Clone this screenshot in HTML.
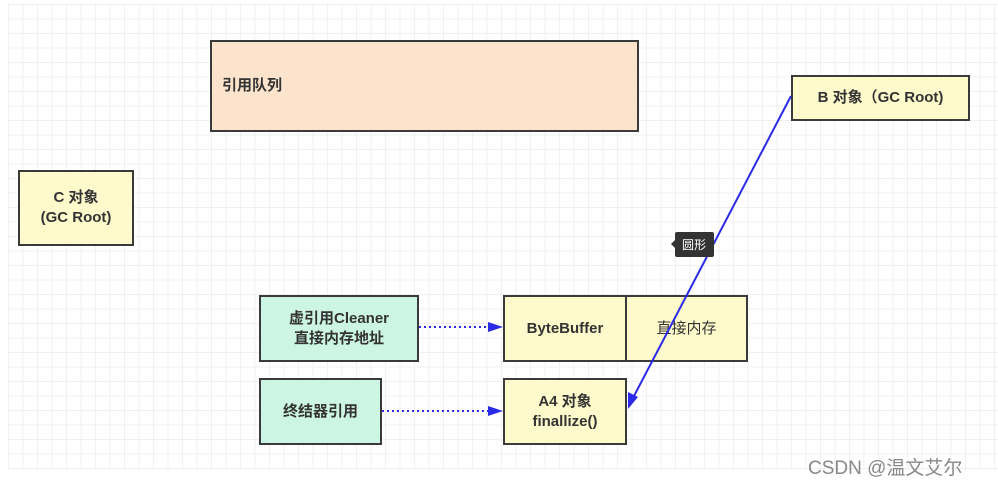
<!DOCTYPE html>
<html><head><meta charset="utf-8"><style>
body{margin:0;width:998px;height:484px;background:#fff;overflow:hidden;position:relative;font-family:"Liberation Sans","Noto Sans CJK SC",sans-serif;}
.grid{position:absolute;left:8px;top:4px;width:990px;height:466px;
background-image:linear-gradient(#f0f0f0 1px,transparent 1px),linear-gradient(90deg,#f0f0f0 1px,transparent 1px);
background-size:14.5px 14.5px;}
.b{position:absolute;box-sizing:border-box;border:2px solid #3a3a3a;display:flex;align-items:center;justify-content:center;text-align:center;font-weight:bold;font-size:15px;color:#333;line-height:20px;}
.y{background:#fffacc}.g{background:#ccf5e3}.o{background:#fce4cc}
</style></head><body>
<div class="grid"></div>
<div class="b o" style="left:210px;top:40px;width:429px;height:92px;justify-content:flex-start;padding-left:10px">引用队列</div>
<div class="b y" style="left:791px;top:75px;width:179px;height:46px">B 对象（GC Root)</div>
<div class="b y" style="left:18px;top:170px;width:116px;height:76px">C 对象<br>(GC Root)</div>
<div class="b g" style="left:259px;top:295px;width:160px;height:67px">虚引用Cleaner<br>直接内存地址</div>
<div class="b y" style="left:503px;top:295px;width:124px;height:67px">ByteBuffer</div>
<div class="b y" style="left:625px;top:295px;width:123px;height:67px;font-weight:normal">直接内存</div>
<div class="b g" style="left:259px;top:378px;width:123px;height:67px">终结器引用</div>
<div class="b y" style="left:503px;top:378px;width:124px;height:67px">A4 对象<br>finallize()</div>
<svg style="position:absolute;left:0;top:0" width="998" height="484">
<line x1="419" y1="327" x2="490" y2="327" stroke="#2a2ae8" stroke-width="2" stroke-dasharray="2,3"/>
<polygon points="503,327 488,322 488,332" fill="#2a2ae8"/>
<line x1="382" y1="411" x2="490" y2="411" stroke="#2a2ae8" stroke-width="2" stroke-dasharray="2,3"/>
<polygon points="503,411 488,406 488,416" fill="#2a2ae8"/>
<line x1="791" y1="96" x2="634" y2="396" stroke="#2a2ae8" stroke-width="2"/>
<polygon points="628,409 628,392 638,397" fill="#2a2ae8"/>
<path d="M671,244 L675,240 L675,234 Q675,232 677,232 L712,232 Q714,232 714,234 L714,255 Q714,257 712,257 L677,257 Q675,257 675,255 L675,248 Z" fill="#333"/>
<text x="682" y="249" font-size="12" fill="#fff" font-family="Noto Sans CJK SC,sans-serif">圆形</text>
</svg>
<div style="position:absolute;left:808px;top:453px;font-size:19px;color:#888">CSDN @温文艾尔</div>
</body></html>
